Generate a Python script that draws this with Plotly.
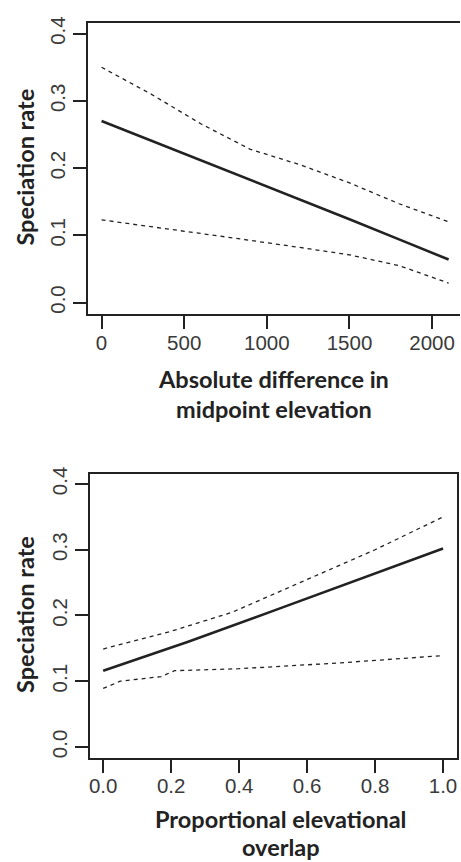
import plotly.graph_objects as go

# Panel 1: absolute difference in midpoint elevation
x1 = [0, 300, 600, 900, 1200, 1500, 1800, 2100]
fit1 = [0.270, 0.241, 0.212, 0.183, 0.153, 0.124, 0.094, 0.064]
upper1 = [0.350, 0.310, 0.266, 0.228, 0.205, 0.178, 0.147, 0.120]
x1_low = [0, 400, 800, 1200, 1500, 1800, 2100]
lower1 = [0.123, 0.110, 0.096, 0.082, 0.071, 0.055, 0.029]

# Panel 2: proportional elevational overlap
x2 = [0, 0.25, 0.5, 0.75, 1.0]
fit2 = [0.116, 0.160, 0.207, 0.254, 0.302]
x2_up = [0, 0.2, 0.38, 0.6, 0.8, 1.0]
upper2 = [0.149, 0.176, 0.205, 0.255, 0.300, 0.350]
x2_low = [0, 0.05, 0.17, 0.21, 0.4, 0.7, 1.0]
lower2 = [0.089, 0.100, 0.107, 0.116, 0.119, 0.128, 0.139]

xt1 = [0, 500, 1000, 1500, 2000]
xt2 = [0.0, 0.2, 0.4, 0.6, 0.8, 1.0]
xt2_lab = ["0.0", "0.2", "0.4", "0.6", "0.8", "1.0"]
yt = [0.0, 0.1, 0.2, 0.3, 0.4]
yt_lab = ["0.0", "0.1", "0.2", "0.3", "0.4"]

W, H = 461, 862
LINE = "#222222"
TICKC = "#3a3a3a"

fig = go.Figure()

def add(x, y, xa, ya, solid):
    fig.add_trace(go.Scatter(
        x=x, y=y, xaxis=xa, yaxis=ya, mode="lines", showlegend=False,
        line=dict(color=LINE, width=2.6 if solid else 1.3,
                  dash="solid" if solid else "4px,4px")))

add(x1, fit1, "x", "y", True)
add(x1, upper1, "x", "y", False)
add(x1_low, lower1, "x", "y", False)
add(x2, fit2, "x2", "y2", True)
add(x2_up, upper2, "x2", "y2", False)
add(x2_low, lower2, "x2", "y2", False)

tickfont = dict(family="Liberation Sans, Arial, sans-serif", size=20.5, color=TICKC)
common_ax = dict(showgrid=False, zeroline=False, showline=True, linecolor=LINE,
                 linewidth=2, ticks="outside", ticklen=13, tickwidth=2,
                 tickcolor=LINE, tickfont=tickfont)

def px2dom_y(p0, p1):
    return [1 - p1 / H, 1 - p0 / H]

fig.update_layout(
    width=W, height=H, margin=dict(l=0, r=0, t=0, b=0),
    plot_bgcolor="white", paper_bgcolor="white",
    xaxis=dict(domain=[87 / W, 1.0], range=[-84.3, 2168.7], anchor="y",
               tickvals=xt1, ticktext=[str(v) for v in xt1], mirror=True,
               ticklabelstandoff=-4, **common_ax),
    yaxis=dict(domain=px2dom_y(16, 310), range=[-0.0177, 0.416], anchor="x",
               tickvals=yt, ticktext=yt_lab, tickangle=-90, mirror=False,
               ticklabelstandoff=-1, **common_ax),
    xaxis2=dict(domain=[89 / W, 457.6 / W], range=[-0.04, 1.04], anchor="y2",
                tickvals=xt2, ticktext=xt2_lab, mirror=True,
                ticklabelstandoff=-4, **common_ax),
    yaxis2=dict(domain=px2dom_y(471, 757), range=[-0.0166, 0.415], anchor="x2",
                tickvals=yt, ticktext=yt_lab, tickangle=-90, mirror=True,
                ticklabelstandoff=-1, **common_ax),
)

tfont = dict(family="Lato, Open Sans, sans-serif", size=23.5, color="#222222", weight="bold")

def ann(text, xpx, ypx, angle=0):
    fig.add_annotation(text=text, xref="paper", yref="paper",
                       x=xpx / W, y=1 - ypx / H, xanchor="center", yanchor="middle",
                       showarrow=False, textangle=angle, font=tfont)

ann("Absolute difference in", 274, 375)
ann("midpoint elevation", 274, 405)
ann("Proportional elevational", 281, 819)
ann("overlap", 281, 847)
ann("Speciation rate", 24, 161, -90)
ann("Speciation rate", 24, 612, -90)

fig.write_html("out.html")
